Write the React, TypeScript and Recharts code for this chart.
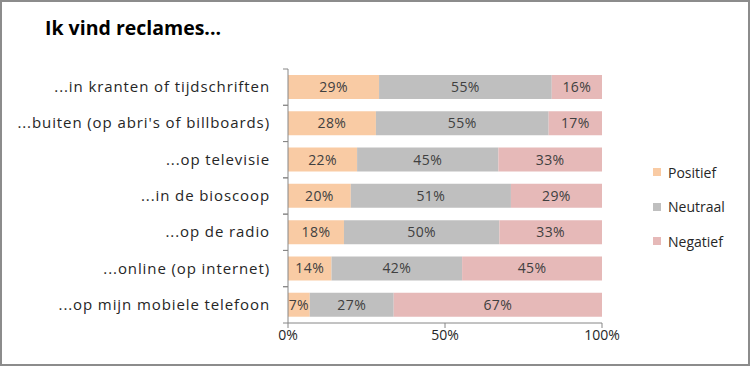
import { BarChart, Bar, XAxis, YAxis, LabelList } from 'recharts';

const categories = [
    '...in kranten of tijdschriften',
    "...buiten (op abri's of billboards)",
    '...op televisie',
    '...in de bioscoop',
    '...op de radio',
    '...online (op internet)',
    '...op mijn mobiele telefoon',
];
const positief = [29, 28, 22, 20, 18, 14, 7];
const neutraal = [55, 55, 45, 51, 50, 42, 27];
const negatief = [16, 17, 33, 29, 33, 45, 67];
const xTicks = [0, 0.5, 1];

const series = [
    { key: 'Positief', color: '#F9CBA4' },
    { key: 'Neutraal', color: '#BFBFBF' },
    { key: 'Negatief', color: '#E6B9B8' },
];

const data = categories.map((name, i) => ({
    name,
    Positief: positief[i],
    Neutraal: neutraal[i],
    Negatief: negatief[i],
}));

const FONT = '"Open Sans", "Noto Sans", sans-serif';
const AXIS = '#868686';
const TOP = 69;
const BOTTOM = 13;
const XH = 30;
const H = 366;
const BAND = (H - TOP - BOTTOM - XH) / categories.length;

function CatTick(props: any) {
    const { x, y, payload } = props;
    return (
        <g>
            <line x1={x - 5} x2={x} y1={y - BAND / 2} y2={y - BAND / 2} stroke={AXIS} />
            <line x1={x - 5} x2={x} y1={y + BAND / 2} y2={y + BAND / 2} stroke={AXIS} />
            <text
                x={x - 18}
                y={y}
                dy={5}
                textAnchor="end"
                fontSize={15}
                letterSpacing={0.9}
                fill="#262626"
                fontFamily={FONT}
            >
                {payload.value}
            </text>
        </g>
    );
}

function LegendBox() {
    return (
        <div style={{ position: 'absolute', left: 651, top: 153, fontFamily: FONT, fontSize: 14, color: '#262626' }}>
            {series.map((s) => (
                <div key={s.key} style={{ display: 'flex', alignItems: 'center', height: 34.5 }}>
                    <span style={{ width: 8, height: 8, background: s.color, marginRight: 7, display: 'inline-block' }} />
                    {s.key}
                </div>
            ))}
        </div>
    );
}

export default function App() {
    return (
        <div
            style={{
                position: 'absolute',
                left: 0,
                top: 0,
                width: 750,
                height: 366,
                background: '#fff',
                border: '2px solid #8c8c8c',
                boxSizing: 'border-box',
            }}
        >
            <div
                style={{
                    position: 'absolute',
                    left: 43,
                    top: 12,
                    fontFamily: FONT,
                    fontWeight: 700,
                    fontSize: 19.5,
                    color: '#000',
                }}
            >
                Ik vind reclames...
            </div>
            <div style={{ position: 'absolute', left: -2, top: -2 }}>
                <BarChart
                    width={750}
                    height={H}
                    data={data}
                    layout="vertical"
                    stackOffset="expand"
                    margin={{ top: TOP, right: 148, bottom: BOTTOM, left: 0 }}
                >
                    <XAxis
                        type="number"
                        domain={[0, 1]}
                        ticks={xTicks}
                        tickFormatter={(v: number) => `${Math.round(v * 100)}%`}
                        stroke={AXIS}
                        tickSize={5}
                        height={XH}
                        tick={{ fill: '#262626', fontSize: 14, fontFamily: FONT }}
                    />
                    <YAxis
                        type="category"
                        dataKey="name"
                        width={288}
                        stroke={AXIS}
                        tickLine={false}
                        tickSize={0}
                        tickMargin={0}
                        interval={0}
                        tick={<CatTick />}
                    />
                    {series.map((s) => (
                        <Bar key={s.key} dataKey={s.key} stackId="a" fill={s.color} barSize={24} isAnimationActive={false}>
                            <LabelList
                                dataKey={s.key}
                                position="center"
                                formatter={(v: any) => `${v}%`}
                                style={{ fill: '#404040', fontSize: 14, fontFamily: FONT, letterSpacing: 0.4 }}
                            />
                        </Bar>
                    ))}
                </BarChart>
            </div>
            <LegendBox />
        </div>
    );
}
